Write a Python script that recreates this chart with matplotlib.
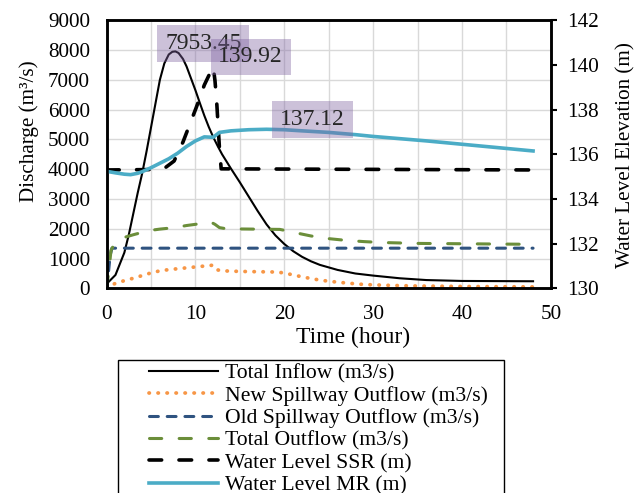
import matplotlib
matplotlib.use("Agg")
import matplotlib.pyplot as plt
from matplotlib.patches import Rectangle

plt.rcParams['font.family'] = ['Liberation Serif', 'DejaVu Serif']

# Total inflow (m3/s)
t_in = [0, 1, 2, 2.5, 3, 3.5, 4, 4.5, 5, 5.5, 6, 6.5, 7, 7.4, 7.75, 8.1, 8.6, 9, 9.5, 10,
        10.5, 11, 11.5, 12, 12.5, 13, 14, 15, 16, 17, 18, 19, 20, 21, 22, 23, 24, 26,
        28, 30, 33, 36, 40, 48]
q_in = [150, 450, 1200, 1800, 2500, 3200, 3850, 4600, 5400, 6200, 7000, 7550, 7850,
        7940, 7953.45, 7900, 7700, 7450, 7050, 6650, 6220, 5800, 5420, 5080, 4780, 4500,
        4020, 3560, 3080, 2600, 2150, 1780, 1490, 1250, 1060, 910, 790, 620, 500, 430,
        340, 280, 250, 240]

# New spillway outflow (m3/s)
t_new = [0, 0.5, 1, 2, 3, 4, 5, 6, 7, 8, 9, 10, 11, 12, 12.5, 13, 15, 17, 19, 20, 21,
         22, 23, 24, 25, 27, 29, 32, 35, 40, 48]
q_new = [0, 100, 170, 260, 340, 430, 520, 590, 630, 660, 690, 720, 750, 780, 620, 590,
         570, 560, 550, 520, 450, 390, 330, 280, 240, 180, 130, 100, 80, 65, 50]

# Old spillway outflow (m3/s)
t_old = [0, 0.1, 0.4, 0.6, 48]
q_old = [0, 200, 1100, 1350, 1350]

# Total outflow (m3/s)
t_out = [0, 0.3, 0.5, 0.9, 1.5, 2.2, 3, 4, 5, 6, 7, 8, 9, 10, 11, 11.7, 12.2, 12.7, 13.5,
         19.5, 20.5, 21.7, 23, 25, 27, 29, 31, 35, 48]
q_out = [0, 700, 1280, 1500, 1650, 1730, 1800, 1880, 1950, 1990, 2020, 2060, 2110, 2150,
         2200, 2230, 2150, 2040, 2000, 1980, 1920, 1840, 1760, 1670, 1610, 1570, 1540,
         1510, 1480]

# Water level SSR (m)
t_ssr = [0, 6, 6.6, 7.6, 8.6, 10.1, 11, 11.6, 12, 12.2, 12.4, 12.7, 12.9, 48]
h_ssr = [135.3, 135.32, 135.4, 135.7, 136.55, 138.1, 139.1, 139.6, 139.92, 139.3,
         138.3, 136.3, 135.35, 135.3]

# Water level MR (m)
t_mr = [0, 1, 2, 2.7, 3.5, 4, 5, 6, 7, 8, 9, 10, 11, 12, 12.7, 14, 16, 18, 20, 22, 25,
        28, 30, 33, 36, 40, 44, 48]
h_mr = [135.24, 135.17, 135.11, 135.09, 135.15, 135.22, 135.4, 135.6, 135.8, 136.05,
        136.35, 136.6, 136.78, 136.76, 136.98, 137.05, 137.1, 137.12, 137.1, 137.05,
        136.98, 136.88, 136.8, 136.7, 136.6, 136.45, 136.3, 136.15]

labels = ["Total Inflow (m3/s)", "New Spillway Outflow (m3/s)",
          "Old Spillway Outflow (m3/s)", "Total Outflow (m3/s)",
          "Water Level SSR (m)", "Water Level MR (m)"]

fig = plt.figure(figsize=(6.42, 4.93), dpi=100)
ax = fig.add_axes([0.166, 0.415, 0.692, 0.544])
ax2 = ax.twinx()

fs = 15.2
l1, = ax.plot(t_in, q_in, color="black", lw=1.5)
l2, = ax.plot(t_new, q_new, color="#F79646", lw=2.7, linestyle=(0, (0.1, 2.3)),
              dash_capstyle="round")
l3, = ax.plot(t_old, q_old, color="#2F5380", lw=2.2, linestyle=(0, (2.9, 2.9)),
              dash_capstyle="round")
l4, = ax.plot(t_out, q_out, color="#6B8E3A", lw=2.2, linestyle=(0, (4, 5.7)),
              dash_capstyle="round")
l5, = ax2.plot(t_ssr, h_ssr, color="black", lw=2.6, linestyle=(0, (3.5, 4.8)),
               dash_capstyle="round")
l6, = ax2.plot(t_mr, h_mr, color="#4BACC6", lw=2.6)

ax.set_xlim(0, 50)
ax.set_ylim(0, 9000)
ax2.set_ylim(130, 142)
ax.set_xticks(range(0, 51, 10))
ax.set_xticks(range(5, 50, 10), minor=True)
ax.set_yticks(range(0, 9001, 1000))
ax2.set_yticks(range(130, 143, 2))

ax.grid(True, which="both", axis="x", color="#d9d9d9", lw=1.0)
ax.grid(True, which="major", axis="y", color="#d9d9d9", lw=1.0)
ax.set_axisbelow(True)

ax.tick_params(axis="x", which="both", length=0, pad=12, labelsize=fs)
ax.tick_params(axis="y", length=0, pad=12, labelsize=fs)
ax2.tick_params(axis="y", length=4, width=1.5, direction="out", pad=8, labelsize=fs)

for a in (ax, ax2):
    for s in a.spines.values():
        s.set_linewidth(1.8)
        s.set_color("black")

ax.set_xlabel("Time (hour)", fontsize=17)
ax.xaxis.set_label_coords(0.554, -0.143)
ax.set_ylabel("Discharge (m³/s)", fontsize=fs)
ax.yaxis.set_label_coords(-0.152, 0.586)
ax2.set_ylabel("Water Level Elevation (m)", fontsize=fs)
ax2.yaxis.set_label_coords(1.148, 0.496)

# peak labels
box = dict(boxstyle="square,pad=0.33", fc="#8064A2", ec="none", alpha=0.4)
i1 = q_in.index(max(q_in))
ax2.annotate(f"{q_in[i1]:.2f}", xy=(t_in[i1], q_in[i1]), xycoords=ax.transData,
             xytext=(20, 5.5), textcoords="offset points", fontsize=17,
             ha="center", va="center", color="#262626", bbox=box)
i5 = h_ssr.index(max(h_ssr))
ax2.annotate(f"{h_ssr[i5]:.2f}", xy=(t_ssr[i5], h_ssr[i5]), xytext=(27, 7),
             textcoords="offset points", fontsize=17, ha="center", va="center",
             color="#262626", bbox=box)
i6 = h_mr.index(max(h_mr))
ax2.annotate(f"{h_mr[i6]:.2f}", xy=(t_mr[i6], h_mr[i6]), xytext=(33, 7),
             textcoords="offset points", fontsize=17, ha="center", va="center",
             color="#262626", bbox=box)

# legend with frame running off the bottom of the figure
fig.legend([l1, l2, l3, l4, l5, l6], labels, loc="upper left",
           bbox_to_anchor=(149 / 642, 1 - 363.5 / 493), frameon=False, borderpad=0,
           borderaxespad=0, fontsize=15.6, handlelength=3.18, handletextpad=0.35,
           labelspacing=0.1)
fig.patches.append(Rectangle((118 / 642, -0.1), 386 / 642, 0.1 + 1 - 360 / 493,
                             transform=fig.transFigure, fill=False, ec="black", lw=1.0))

fig.savefig("out.png", dpi=100)
